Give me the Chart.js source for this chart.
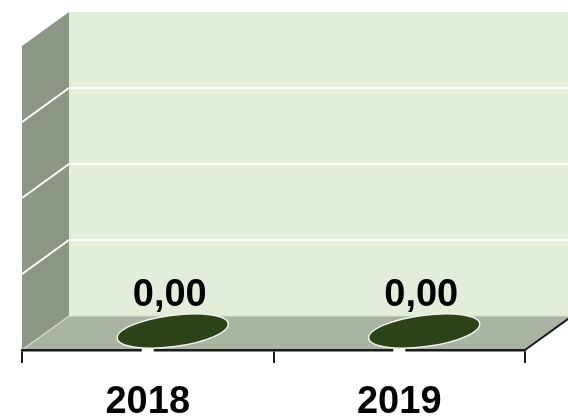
<!DOCTYPE html>
<html><head><meta charset="utf-8">
<script src="https://cdn.jsdelivr.net/npm/chart.js@4"></script>
<style>html,body{margin:0;padding:0;background:#fff;}</style>
</head><body>
<canvas id="c" width="568" height="416" style="width:568px;height:416px;display:block"></canvas>
<script>
const categories = ['2018', '2019'];
const values = [0, 0];
const yTicks = [0, 0.25, 0.5, 0.75, 1];
const valueLabels = values.map(v => v.toFixed(2).replace('.', ','));

const DX = 47, DY = 34;
const FONT = "'Liberation Sans', Arial, sans-serif";

function poly(ctx, pts, fill) {
  ctx.beginPath();
  ctx.moveTo(pts[0][0], pts[0][1]);
  for (let i = 1; i < pts.length; i++) ctx.lineTo(pts[i][0], pts[i][1]);
  ctx.closePath();
  ctx.fillStyle = fill;
  ctx.fill();
}

const walls = {
  id: 'walls',
  beforeDraw(chart) {
    const { ctx, chartArea: a, scales: { y } } = chart;
    const yb = y.getPixelForValue(yTicks[0]);
    const yt = y.getPixelForValue(yTicks[yTicks.length - 1]);
    const L = a.left, R = a.right, W = chart.width + 60;
    ctx.save();
    ctx.fillStyle = '#e2eed9';
    ctx.fillRect(L + DX, yt - DY, W - (L + DX), yb - yt);
    poly(ctx, [[L, yt], [L + DX, yt - DY], [L + DX, yb - DY], [L, yb]], '#8b9685');
    poly(ctx, [[L, yb], [L + DX, yb - DY], [R + DX, yb - DY], [R, yb]], '#a9b5a2');
    ctx.lineWidth = 2;
    ctx.strokeStyle = '#fbfdf9';
    yTicks.slice(1, -1).forEach(v => {
      const py = y.getPixelForValue(v);
      ctx.beginPath();
      ctx.moveTo(L, py);
      ctx.lineTo(L + DX, py - DY);
      ctx.lineTo(W, py - DY);
      ctx.stroke();
    });
    ctx.lineWidth = 1.2;
    ctx.strokeStyle = '#d6ddd2';
    ctx.beginPath();
    ctx.moveTo(L, yb);
    ctx.lineTo(L + DX, yb - DY);
    ctx.lineTo(W, yb - DY);
    ctx.stroke();
    ctx.lineWidth = 2;
    ctx.strokeStyle = '#1a1a1a';
    ctx.beginPath();
    ctx.moveTo(R, yb);
    ctx.lineTo(R + DX, yb - DY);
    ctx.stroke();
    ctx.restore();
  },
  afterDatasetsDraw(chart) {
    const { ctx } = chart;
    const meta = chart.getDatasetMeta(0);
    ctx.save();
    meta.data.forEach((bar, i) => {
      const p = bar.getProps(['x', 'y', 'width'], true);
      const cx = p.x + 25, cy = p.y - 19;
      const rx = p.width / 2, ry = rx * 0.28;
      ctx.beginPath();
      ctx.ellipse(cx, cy, rx, ry, -7.5 * Math.PI / 180, 0, Math.PI * 2);
      ctx.fillStyle = '#2c4219';
      ctx.fill();
      ctx.lineWidth = 1.5;
      ctx.strokeStyle = '#f2f4ef';
      ctx.stroke();
      ctx.fillStyle = '#000';
      ctx.font = "bold 38px " + FONT;
      ctx.textAlign = 'center';
      ctx.textBaseline = 'alphabetic';
      ctx.fillText(valueLabels[i], cx - 3, p.y - 44);
    });
    ctx.restore();
  },
  afterDraw(chart) {
    const { ctx } = chart;
    const meta = chart.getDatasetMeta(0);
    ctx.save();
    ctx.fillStyle = '#ffffff';
    meta.data.forEach(bar => {
      const p = bar.getProps(['x', 'y'], true);
      ctx.fillRect(p.x - 6, p.y - 1, 12, 5);
    });
    ctx.restore();
  }
};

new Chart(document.getElementById('c'), {
  type: 'bar',
  data: {
    labels: categories,
    datasets: [{
      data: values,
      backgroundColor: 'rgba(0,0,0,0)',
      borderWidth: 0,
      categoryPercentage: 1,
      barPercentage: 0.445
    }]
  },
  options: {
    responsive: false,
    devicePixelRatio: 1,
    animation: false,
    layout: { padding: { left: 22, right: 43, top: 46, bottom: 0 } },
    plugins: { legend: { display: false }, tooltip: { enabled: false } },
    scales: {
      x: {
        afterFit(scale) { scale.height = 66; },
        border: { display: true, color: '#1a1a1a', width: 2.5 },
        grid: { display: true, drawOnChartArea: false, drawTicks: true, tickLength: 13, color: '#1a1a1a', lineWidth: 2 },
        ticks: { color: '#000', padding: 17, font: { family: FONT, size: 38, weight: 'bold', lineHeight: 1.2 } }
      },
      y: {
        display: false,
        min: yTicks[0],
        max: yTicks[yTicks.length - 1],
        ticks: { stepSize: yTicks[1] - yTicks[0] }
      }
    }
  },
  plugins: [walls]
});
</script>
</body></html>
